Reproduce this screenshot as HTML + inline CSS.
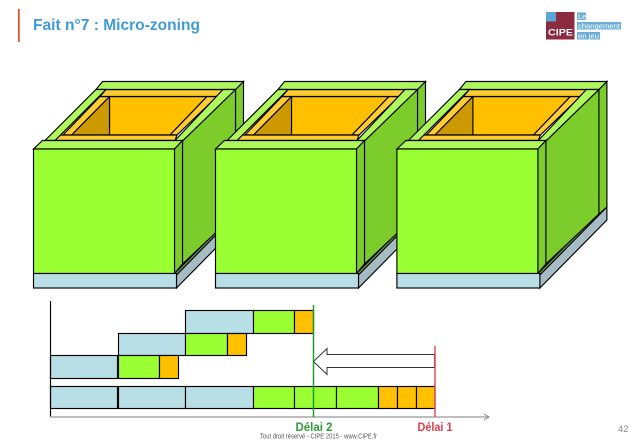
<!DOCTYPE html>
<html><head><meta charset="utf-8"><style>
html,body{margin:0;padding:0;background:#fff;width:638px;height:442px;overflow:hidden}
svg{display:block}
</style></head><body>
<svg width="638" height="442" viewBox="0 0 638 442" xmlns="http://www.w3.org/2000/svg" font-family="'Liberation Sans',sans-serif">
<defs>
<g id="box" stroke="#000" stroke-width="1.15" stroke-linejoin="miter">
<polygon points="176.5,273.5 243.5,207 243.5,220 176.5,288" fill="#a5bcc4"/>
<polygon points="174.5,273.5 243.5,204 243.5,207 176.5,275" fill="#6f9a50"/>
<polygon points="235.5,89.5 243.5,81.5 243.5,207 235.5,214" fill="#7ccc2c"/>
<polygon points="182.5,141 235.5,89.5 235.5,214 182.5,264" fill="#7ccc2c"/>
<polygon points="106,89.5 223,89.5 177,135 175,140 55,140" fill="#ffcc33" stroke="none"/>
<polygon points="109.5,96.5 207,96.5 170,135 109.5,135" fill="#ffc000"/>
<polygon points="109.5,96.5 109.5,135 71.5,135" fill="#cc9900"/>
<polygon points="100,96.5 109.5,96.5 71.5,135 63,135" fill="#ffcc33"/>
<polygon points="207,96.5 217,96.5 177,135 170,135" fill="#ffcc33"/>
<polygon points="106,89.5 223,89.5 217,96.5 100,96.5" fill="#ffcc33"/>
<polygon points="60,135 177,135 175,140.5 55,140.5" fill="#ffcc33"/>
<polygon points="102.5,81.5 243.5,81.5 235.5,89.5 96,89.5" fill="#aef85e"/>
<polygon points="96,89.5 106,89.5 55,140.5 45,140.5" fill="#aef85e"/>
<polygon points="223,89.5 235.5,89.5 182.5,141 174.5,141" fill="#aef85e"/>
<polygon points="33.5,149 42.5,140.5 182.5,140.5 174.5,149" fill="#aef85e"/>
<polygon points="174.5,149 182.5,140.5 182.5,264 174.5,273.5" fill="#7ccc2c"/>
<rect x="33.5" y="149" width="141" height="124.5" fill="#9aff33"/>
<rect x="33.5" y="273.5" width="143" height="14.5" fill="#b9dfe6"/>
</g>
</defs>

<rect x="18" y="9" width="1.7" height="33" fill="#e0512a"/>
<text x="33" y="30" font-size="15.5" font-weight="bold" fill="#3f9bd2" textLength="167" lengthAdjust="spacingAndGlyphs">Fait n°7 : Micro-zoning</text>

<rect x="546" y="12" width="28.5" height="27.5" fill="#8c2a3f"/>
<rect x="546" y="12" width="10" height="9.5" fill="#5ba6d6"/>
<text x="548" y="35.5" font-size="9.5" font-weight="bold" fill="#fff" textLength="25" lengthAdjust="spacingAndGlyphs">CIPE</text>
<rect x="577" y="12.5" width="9" height="7.5" fill="#6aaed8"/>
<rect x="577" y="22" width="44" height="7.5" fill="#6aaed8"/>
<rect x="577" y="32" width="23" height="7.5" fill="#6aaed8"/>
<text x="578" y="19" font-size="7.5" fill="#fff">Le</text>
<text x="578" y="28.5" font-size="7.5" fill="#fff" textLength="42" lengthAdjust="spacingAndGlyphs">changement</text>
<text x="578" y="38.5" font-size="7.5" fill="#fff" textLength="21" lengthAdjust="spacingAndGlyphs">en jeu</text>

<use href="#box"/>
<use href="#box" x="182"/>
<use href="#box" x="363.4"/>

<g stroke="#000" stroke-width="1.15">
<rect x="185.5" y="310.5" width="68" height="23" fill="#b9dfe6"/>
<rect x="253.5" y="310.5" width="41" height="23" fill="#9aff33"/>
<rect x="294.5" y="310.5" width="19" height="23" fill="#ffc000"/>
<rect x="118.5" y="333.5" width="67" height="22" fill="#b9dfe6"/>
<rect x="185.5" y="333.5" width="42" height="22" fill="#9aff33"/>
<rect x="227.5" y="333.5" width="19" height="22" fill="#ffc000"/>
<rect x="50.5" y="355.5" width="67" height="23" fill="#b9dfe6"/>
<rect x="118.5" y="355.5" width="41" height="23" fill="#9aff33"/>
<rect x="159.5" y="355.5" width="19" height="23" fill="#ffc000"/>
<rect x="50.5" y="386.5" width="67" height="22" fill="#b9dfe6"/>
<rect x="118.5" y="386.5" width="67" height="22" fill="#b9dfe6"/>
<rect x="185.5" y="386.5" width="68" height="22" fill="#b9dfe6"/>
<rect x="253.5" y="386.5" width="41" height="22" fill="#9aff33"/>
<rect x="294.5" y="386.5" width="42" height="22" fill="#9aff33"/>
<rect x="336.5" y="386.5" width="42" height="22" fill="#9aff33"/>
<rect x="378.5" y="386.5" width="19" height="22" fill="#ffc000"/>
<rect x="397.5" y="386.5" width="19" height="22" fill="#ffc000"/>
<rect x="416.5" y="386.5" width="18.5" height="22" fill="#ffc000"/>
<line x1="117.8" y1="355.5" x2="117.8" y2="378.5" stroke-width="1.6"/>
<line x1="117.8" y1="386.5" x2="117.8" y2="408.5" stroke-width="1.6"/>
</g>

<line x1="50.5" y1="301" x2="50.5" y2="417" stroke="#000" stroke-width="1.15"/>
<line x1="50" y1="417" x2="488" y2="417" stroke="#a8a8a8" stroke-width="1.4"/>
<polyline points="484,414 489,417 484,420" fill="none" stroke="#888" stroke-width="1"/>

<polygon points="313.5,361.5 327,348.5 327,354.5 434.5,354.5 434.5,367.5 327,367.5 327,374.5" fill="#fff" stroke="#333" stroke-width="1"/>
<line x1="313.5" y1="305" x2="313.5" y2="417" stroke="#1f9a30" stroke-width="1.5"/>
<line x1="435" y1="346" x2="435" y2="417" stroke="#e0505a" stroke-width="1.5"/>

<text x="314" y="431" font-size="11.5" font-weight="bold" fill="#2e9a3a" text-anchor="middle" textLength="37" lengthAdjust="spacingAndGlyphs">Délai 2</text>
<text x="435" y="431" font-size="11.5" font-weight="bold" fill="#d8404a" text-anchor="middle" textLength="35" lengthAdjust="spacingAndGlyphs">Délai 1</text>
<text x="260" y="438.5" font-size="7.5" fill="#555" textLength="117" lengthAdjust="spacingAndGlyphs">Tout droit réservé - CIPE 2015 - www.CIPE.fr</text>
<text x="618" y="432" font-size="9.5" fill="#888">42</text>
</svg>
</body></html>
